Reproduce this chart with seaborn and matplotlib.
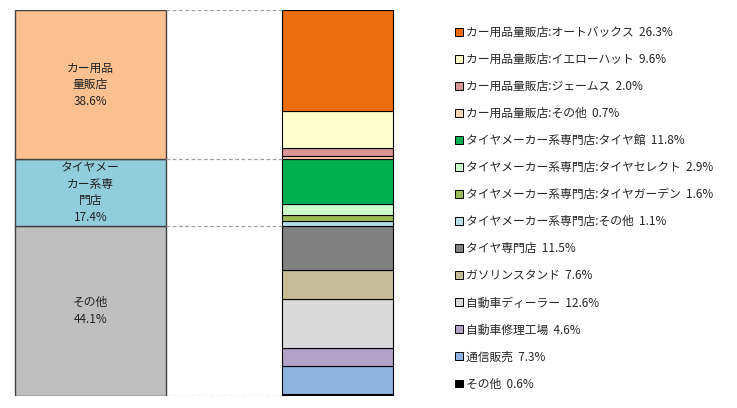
import numpy as np
import matplotlib
matplotlib.use("Agg")
import matplotlib.pyplot as plt
import seaborn as sns
from matplotlib.patches import Patch

sns.set_style("white")
plt.rcParams["font.family"] = ["Noto Sans CJK JP", "DejaVu Sans"]

# 左の棒 (大分類)
group_names = ["カー用品\n量販店", "タイヤメー\nカー系専\n門店", "その他"]
group_pcts = [38.6, 17.4, 44.1]
group_colors = ["#FAC090", "#92CDDC", "#BFBFBF"]

# 右の棒 (内訳) 上から順
detail_names = ["カー用品量販店:オートバックス", "カー用品量販店:イエローハット",
                "カー用品量販店:ジェームス", "カー用品量販店:その他",
                "タイヤメーカー系専門店:タイヤ館", "タイヤメーカー系専門店:タイヤセレクト",
                "タイヤメーカー系専門店:タイヤガーデン", "タイヤメーカー系専門店:その他",
                "タイヤ専門店", "ガソリンスタンド", "自動車ディーラー",
                "自動車修理工場", "通信販売", "その他"]
detail_pcts = [26.3, 9.6, 2.0, 0.7, 11.8, 2.9, 1.6, 1.1, 11.5, 7.6, 12.6, 4.6, 7.3, 0.6]
detail_colors = ["#ED6C0C", "#FFFFCC", "#D99594", "#FBD4B4", "#00B050", "#CCFFCC",
                 "#9BBB59", "#B7DEE8", "#808080", "#C4BD97", "#D9D9D9", "#B2A2C7",
                 "#8DB3E2", "#000000"]

fig = plt.figure(figsize=(7.37, 4.08), dpi=100)
ax = fig.add_axes([0, 12 / 408, 1, 386 / 408])
ax.set_xlim(0, 737)
ax.set_ylim(0, sum(detail_pcts))
ax.axis("off")

# 左の棒: 下から その他 -> タイヤメーカー系 -> カー用品
left_x, left_w = 90.5, 151
bottom = 0
tops = [0]
for name, pct, col in zip(group_names[::-1], group_pcts[::-1], group_colors[::-1]):
    ax.bar(left_x, pct, width=left_w, bottom=bottom, color=col,
           edgecolor="#404040", linewidth=1)
    ax.text(left_x, bottom + pct / 2, f"{name}\n{pct:.1f}%", ha="center", va="center",
            fontsize=8.5, linespacing=1.35, color="#222222")
    bottom += pct
    tops.append(bottom)

# 右の棒
right_x, right_w = 337.5, 111
bottom = 0
for pct, col in zip(detail_pcts[::-1], detail_colors[::-1]):
    ax.bar(right_x, pct, width=right_w, bottom=bottom, color=col,
           edgecolor="black", linewidth=0.8)
    bottom += pct

# 点線のつなぎ
for y in tops:
    ax.plot([left_x + left_w / 2, right_x - right_w / 2], [y, y],
            color="#A0A0A0", linestyle=(0, (3, 2)), linewidth=0.9)

handles = [Patch(facecolor=c, edgecolor="black", linewidth=0.7) for c in detail_colors]
labels = [f"{n}  {p:.1f}%" for n, p in zip(detail_names, detail_pcts)]
fig.legend(handles, labels, loc="upper left", bbox_to_anchor=(455 / 737, 1 - 26 / 408),
           frameon=False, fontsize=8.5, handlelength=0.65, handleheight=0.65,
           handletextpad=0.3, labelspacing=1.19, borderpad=0, borderaxespad=0)

fig.savefig("out.png", dpi=100)
